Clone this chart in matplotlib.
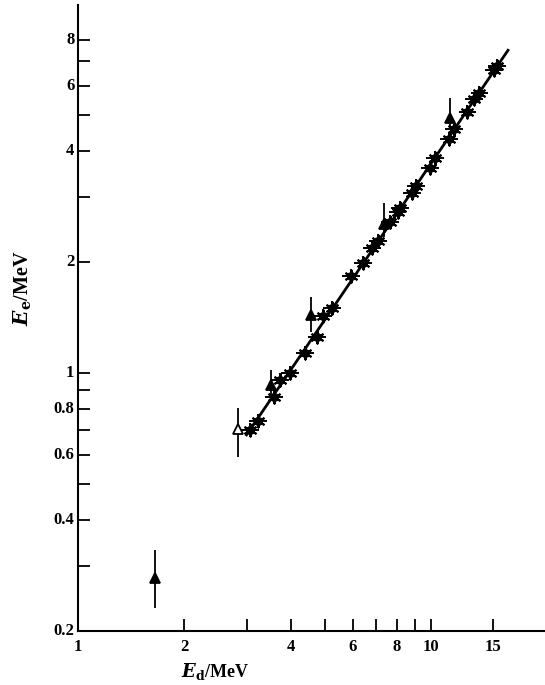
import matplotlib
matplotlib.use("Agg")
import matplotlib.pyplot as plt
import numpy as np
from matplotlib.ticker import FixedLocator, NullFormatter, NullLocator

# ---- data ----
star_x = [3.07, 3.23, 3.58, 3.74, 3.99, 4.40, 4.75, 4.95, 5.23, 5.92, 6.40, 6.79, 7.05,
          7.65, 8.03, 8.17, 8.82, 9.07, 9.94, 10.26, 11.2, 11.57, 12.67, 13.24, 13.70,
          15.08, 15.35]
star_y = [0.70, 0.743, 0.863, 0.957, 1.0, 1.135, 1.25, 1.43, 1.50, 1.83, 1.99, 2.18, 2.28,
          2.57, 2.74, 2.80, 3.07, 3.21, 3.59, 3.82, 4.30, 4.60, 5.11, 5.52, 5.75,
          6.62, 6.79]
star_xerr_frac = 0.06
star_yerr_frac = 0.045

tri_x = [1.65, 2.845, 3.515, 4.56, 7.33, 11.27]
tri_y = [0.278, 0.704, 0.928, 1.436, 2.535, 4.90]
tri_lo = [0.231, 0.592, 0.845, 1.294, 2.34, 4.56]
tri_hi = [0.331, 0.804, 1.019, 1.61, 2.89, 5.56]
tri_filled = [True, False, True, True, True, True]

fit_x = [3.0, 16.5]
fit_y = [0.68, 7.5]

x_major = [1, 2, 4, 6, 8, 10, 15]
x_ticks = [2, 3, 4, 5, 6, 7, 8, 9, 10, 15]
y_major = [0.2, 0.4, 0.6, 0.8, 1, 2, 4, 6, 8]
y_ticks = [0.3, 0.4, 0.5, 0.6, 0.7, 0.8, 0.9, 1, 2, 3, 4, 5, 6, 7, 8]
y_labels = ["0.2", "0.4", "0.6", "0.8", "1", "2", "4", "6", "8"]

plt.rcParams['font.family'] = ['Liberation Serif', 'DejaVu Serif']
plt.rcParams['mathtext.fontset'] = 'dejavuserif'

fig = plt.figure(figsize=(5.45, 6.85), dpi=100)
ax = fig.add_axes([78/545, 54/685, 1 - 78/545, (631 - 5)/685])
ax.set_xscale('log')
ax.set_yscale('log')
ax.set_xlim(1, 21)
ax.set_ylim(0.2, 9.95)

for s in ['top', 'right']:
    ax.spines[s].set_visible(False)
for s in ['left', 'bottom']:
    ax.spines[s].set_linewidth(1.5)

# fitted line
ax.plot(fit_x, fit_y, color='black', lw=2.0, zorder=2)

# star points with error bars
sx = np.array(star_x); sy = np.array(star_y)
xerr = [sx - sx / (1 + star_xerr_frac), sx * star_xerr_frac]
yerr = [sy - sy / (1 + star_yerr_frac), sy * star_yerr_frac]
ax.errorbar(sx, sy, xerr=xerr, yerr=yerr, fmt='o', ms=5.5, color='black',
            elinewidth=1.4, capsize=0, zorder=3)
ax.scatter(sx, sy, marker=(6, 2, 0), s=75, color='black', linewidths=1.5, zorder=4)

# triangles with vertical error bars
for x, y, lo, hi, f in zip(tri_x, tri_y, tri_lo, tri_hi, tri_filled):
    ax.errorbar([x], [y], yerr=[[y - lo], [hi - y]], fmt='^', ms=7,
                color='black', mfc='black' if f else 'white', mec='black',
                mew=1.3, elinewidth=1.3, capsize=0, zorder=5)

# ticks
ax.xaxis.set_major_locator(FixedLocator(x_ticks))
ax.xaxis.set_minor_locator(NullLocator())
ax.xaxis.set_major_formatter(NullFormatter())
ax.xaxis.set_minor_formatter(NullFormatter())
ax.yaxis.set_major_locator(FixedLocator(y_ticks))
ax.yaxis.set_minor_locator(NullLocator())
ax.yaxis.set_major_formatter(NullFormatter())
ax.yaxis.set_minor_formatter(NullFormatter())
ax.tick_params(axis='both', which='major', direction='in', length=8.5, width=1.3,
               color='black')

tf = dict(fontsize=12, fontweight='bold', color='black')
for v in x_major:
    ax.text(v, -0.012, str(v), transform=ax.get_xaxis_transform(),
            ha='center', va='top', **tf)
for v, l in zip(y_major, y_labels):
    ax.text(-0.008, v, l, transform=ax.get_yaxis_transform(),
            ha='right', va='center', **tf)

fig.text(215/545, 1 - 672/685, r'$\mathbfit{E}_{\mathbf{d}}$/MeV', ha='center',
         va='center', fontsize=13, fontweight='bold')
fig.text(23/545, 1 - 288/685, r'$\mathbfit{E}_{\mathbf{e}}$/MeV', ha='center',
         va='center', fontsize=14.5, fontweight='bold', rotation=90)

fig.savefig('out.png', dpi=100)
